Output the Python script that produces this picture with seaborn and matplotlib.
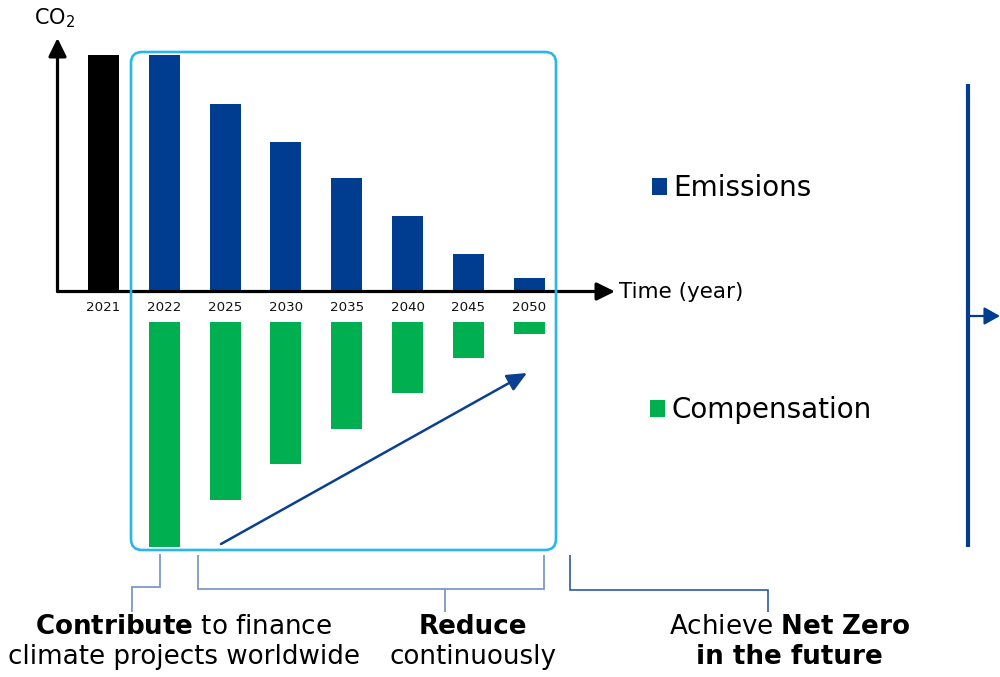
import matplotlib
matplotlib.use("Agg")
import numpy as np
import matplotlib.pyplot as plt
import seaborn as sns
from matplotlib.patches import FancyBboxPatch, FancyArrowPatch, Patch
from matplotlib.lines import Line2D
from matplotlib.transforms import Affine2D

# ---- data -------------------------------------------------------------
years = ["2021", "2022", "2025", "2030", "2035", "2040", "2045", "2050"]
emissions = [100, 100, 79, 63, 47.7, 32, 16, 5.6]
comp_years = ["2022", "2025", "2030", "2035", "2040", "2045", "2050"]
compensation = [95, 75, 60, 45, 30, 15, 5]
bar_colors = ["#000000"] + ["#003D91"] * 7

BLUE = "#003D91"
GREEN = "#00B050"
BOX = "#2BB6E9"
BRACKET_LIGHT = "#7C97C8"
BRACKET_DARK = "#1B4C9E"

sns.set_style("white")
plt.rcParams["font.family"] = ["DejaVu Sans"]
plt.rcParams["mathtext.fontset"] = "dejavusans"
plt.rcParams["text.color"] = "black"
plt.rcParams["xtick.color"] = "black"
plt.rcParams["xtick.labelcolor"] = "black"

W, H = 1000, 677
fig = plt.figure(figsize=(W / 100, H / 100), dpi=100)
fig.patch.set_facecolor("white")

# pixel coordinates measured from the top-left corner of the canvas
px = Affine2D().scale(1 / 100, -1 / 100).translate(0, H / 100) + fig.dpi_scale_trans


def rect(x0, y0, x1, y1):
    return [x0 / W, 1 - y1 / H, (x1 - x0) / W, (y1 - y0) / H]


step = 60.8          # pixels per category
x_left = 57.5        # y-axis position
x_right = 615.0      # tip of the time axis
first_center = 103.5
xlim = (-(first_center - x_left) / step, -(first_center - x_left) / step + (x_right - x_left) / step)
unit = 2.37          # pixels per CO2 unit

# ---- emissions (above the time axis) ----------------------------------
ax = fig.add_axes(rect(x_left, 38, x_right, 291.5))
sns.barplot(x=years, y=emissions, hue=years, palette=bar_colors, legend=False,
            width=0.51, saturation=1, linewidth=0, ax=ax)
ax.set_xlim(*xlim)
ax.set_ylim(0, (291.5 - 38) / unit)
ax.set(xlabel="", ylabel="", yticks=[])
for s in ax.spines.values():
    s.set_visible(False)
ax.set_xticks(np.arange(-0.5, 8, 1), minor=True)
ax.tick_params(axis="x", which="major", length=0, pad=6.5, labelsize=9.6, labelcolor="#111111")
ax.tick_params(axis="x", which="minor", length=2.2, width=1, color="#C8C8C8", direction="out")
ax.patch.set_alpha(0)

axis_arrow = dict(arrowstyle="-|>,head_length=0.55,head_width=0.27", lw=2.3,
                  color="black", mutation_scale=20, shrinkA=0, shrinkB=0)
ax.annotate("", xy=(0, 1), xytext=(0, 0), xycoords="axes fraction", arrowprops=axis_arrow)
ax.annotate("", xy=(1, 0), xytext=(0, 0), xycoords="axes fraction", arrowprops=axis_arrow)

# ---- compensation (below the time axis) -------------------------------
ax2 = fig.add_axes(rect(x_left, 322, x_right, 560))
sns.barplot(x=comp_years, y=compensation, order=years, color=GREEN,
            width=0.51, saturation=1, linewidth=0, ax=ax2)
ax2.set_xlim(*xlim)
ax2.set_ylim((560 - 322) / unit, 0)
ax2.set(xlabel="", ylabel="", xticks=[], yticks=[])
for s in ax2.spines.values():
    s.set_visible(False)
ax2.patch.set_alpha(0)

# ---- axis titles -------------------------------------------------------
fig.text(34 / W, 1 - 24 / H, "CO$_2$", fontsize=15, ha="left", va="baseline")
fig.text(619 / W, 1 - 298 / H, "Time (year)", fontsize=15.5, ha="left", va="baseline")

# ---- legend entries ----------------------------------------------------
leg_kw = dict(loc="center left", frameon=False, fontsize=20, handlelength=0.55,
              handleheight=0.55, handletextpad=0.22, borderpad=0, borderaxespad=0,
              bbox_transform=fig.transFigure, labelcolor="black")
fig.legend(handles=[Patch(facecolor=BLUE, edgecolor="none")], labels=["Emissions"],
           bbox_to_anchor=(651.5 / W, 1 - 188 / H), **leg_kw)
fig.legend(handles=[Patch(facecolor=GREEN, edgecolor="none")], labels=["Compensation"],
           bbox_to_anchor=(650 / W, 1 - 410 / H), **leg_kw)

# ---- rounded frame around the reduction period -------------------------
fig.add_artist(FancyBboxPatch((131, 52), 425, 498,
                              boxstyle="round,pad=0,rounding_size=11",
                              transform=px, fill=False, edgecolor=BOX, lw=1.9, zorder=5))

# trend arrow inside the frame
fig.add_artist(FancyArrowPatch((221, 544), (527, 373), transform=px,
                               arrowstyle="-|>,head_length=0.6,head_width=0.27",
                               mutation_scale=20, color="#0A3F92", lw=1.8,
                               shrinkA=0, shrinkB=0, zorder=6))

# vertical divider with a small arrow to the right
fig.add_artist(Line2D([968, 968], [84, 547], transform=px, color=BLUE, lw=3.0,
                      solid_capstyle="butt"))
fig.add_artist(FancyArrowPatch((968, 316), (1000, 316), transform=px,
                               arrowstyle="-|>,head_length=0.5,head_width=0.28",
                               mutation_scale=19, color=BLUE, lw=1.6,
                               shrinkA=0, shrinkB=0))

# ---- brackets ----------------------------------------------------------
def bracket(xs, ys, color, lw):
    fig.add_artist(Line2D(xs, ys, transform=px, color=color, lw=lw,
                          solid_joinstyle="miter", solid_capstyle="butt"))

bracket([160.3, 160.3, 131.7, 131.7], [554, 587, 587, 612], BRACKET_LIGHT, 1.3)
bracket([197.7, 197.7, 544, 544], [555, 589, 589, 555], BRACKET_LIGHT, 1.3)
bracket([445, 445], [589, 612], BRACKET_LIGHT, 1.3)
bracket([570, 570, 768, 768], [555, 590, 590, 612], BRACKET_DARK, 1.1)

# ---- captions ----------------------------------------------------------
cap = dict(fontsize=18.8, ha="center", va="baseline", color="black")
fig.text(184 / W, 1 - 634 / H, r"$\bf{Contribute}$ to finance", **cap)
fig.text(184 / W, 1 - 664 / H, "climate projects worldwide", **cap)
fig.text(473 / W, 1 - 634 / H, "Reduce", fontweight="bold", **cap)
fig.text(473 / W, 1 - 664 / H, "continuously", **cap)
fig.text(789 / W, 1 - 634 / H, r"Achieve $\bf{Net\ Zero}$", **cap)
fig.text(789 / W, 1 - 664 / H, "in the future", fontweight="bold", **cap)

fig.savefig("out.png", dpi=100)
